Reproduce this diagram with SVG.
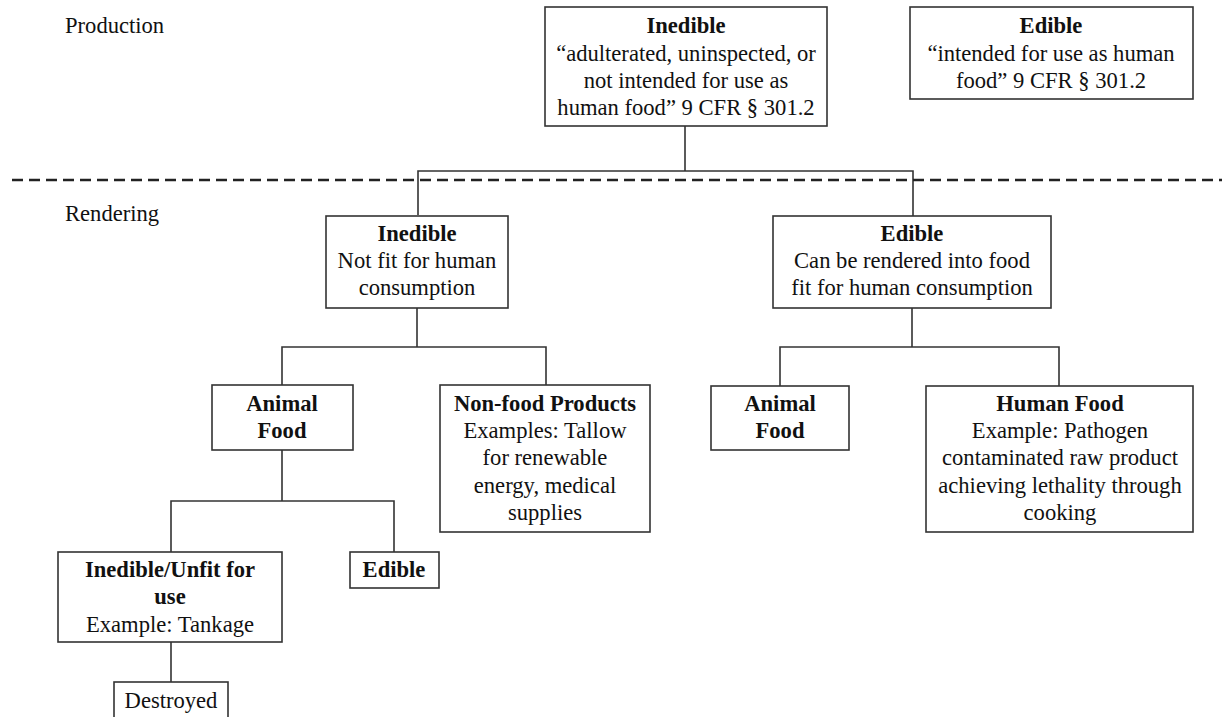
<svg xmlns="http://www.w3.org/2000/svg" width="1222" height="717" viewBox="0 0 1222 717">
<style>
text{font-family:'Liberation Serif','Times New Roman',Times,'DejaVu Serif',serif;font-size:22.6px;fill:#111;text-anchor:middle}
.b{font-weight:bold}
.lbl{text-anchor:start}
rect{fill:#fff;stroke:#333;stroke-width:1.6}
.c{fill:none;stroke:#333;stroke-width:1.6}
</style>
<rect x="0" y="0" width="1222" height="717" style="fill:#fff;stroke:none"/>
<text class="lbl" x="65" y="33">Production</text>
<text class="lbl" x="65" y="221">Rendering</text>
<g id="connectors">
<path class="c" d="M685,126V171M418,215V171H913V216"/>
<line x1="12" y1="180" x2="1222" y2="180" style="stroke:#222;stroke-width:2.5;stroke-dasharray:11 6"/>
<path class="c" d="M417,308V347M282,385V347H546V385"/>
<path class="c" d="M912,308V347M780,386V347H1059V386"/>
<path class="c" d="M282,450V501M171,552V501H394V552"/>
<path class="c" d="M171,642V682"/>
</g>
<g id="prod-inedible">
<rect x="545" y="7" width="282" height="119"/>
<text class="b" x="686" y="33">Inedible</text>
<text x="686" y="61">“adulterated, uninspected, or</text>
<text x="686" y="88">not intended for use as</text>
<text x="686" y="115">human food” 9 CFR § 301.2</text>
</g>
<g id="prod-edible">
<rect x="910" y="7" width="283" height="92"/>
<text class="b" x="1051" y="33">Edible</text>
<text x="1051" y="61">“intended for use as human</text>
<text x="1051" y="88">food” 9 CFR § 301.2</text>
</g>
<g id="rend-inedible">
<rect x="326" y="216" width="182" height="92"/>
<text class="b" x="417" y="241">Inedible</text>
<text x="417" y="268">Not fit for human</text>
<text x="417" y="295">consumption</text>
</g>
<g id="rend-edible">
<rect x="773" y="216" width="278" height="92"/>
<text class="b" x="912" y="241">Edible</text>
<text x="912" y="268">Can be rendered into food</text>
<text x="912" y="295">fit for human consumption</text>
</g>
<g id="animal-food-left">
<rect x="212" y="385" width="141" height="65"/>
<text class="b" x="282" y="411">Animal</text>
<text class="b" x="282" y="438">Food</text>
</g>
<g id="non-food">
<rect x="440" y="385" width="210" height="147"/>
<text class="b" x="545" y="411">Non-food Products</text>
<text x="545" y="438">Examples: Tallow</text>
<text x="545" y="465">for renewable</text>
<text x="545" y="493">energy, medical</text>
<text x="545" y="520">supplies</text>
</g>
<g id="animal-food-right">
<rect x="711" y="386" width="138" height="64"/>
<text class="b" x="780" y="411">Animal</text>
<text class="b" x="780" y="438">Food</text>
</g>
<g id="human-food">
<rect x="926" y="386" width="267" height="146"/>
<text class="b" x="1060" y="411">Human Food</text>
<text x="1060" y="438">Example: Pathogen</text>
<text x="1060" y="465">contaminated raw product</text>
<text x="1060" y="493">achieving lethality through</text>
<text x="1060" y="520">cooking</text>
</g>
<g id="inedible-unfit">
<rect x="58" y="552" width="224" height="90"/>
<text class="b" x="170" y="577">Inedible/Unfit for</text>
<text class="b" x="170" y="604">use</text>
<text x="170" y="632">Example: Tankage</text>
</g>
<g id="edible-small">
<rect x="350" y="552" width="89" height="36"/>
<text class="b" x="394" y="577">Edible</text>
</g>
<g id="destroyed">
<rect x="114" y="682" width="114" height="50"/>
<text x="171" y="708">Destroyed</text>
</g>
</svg>
